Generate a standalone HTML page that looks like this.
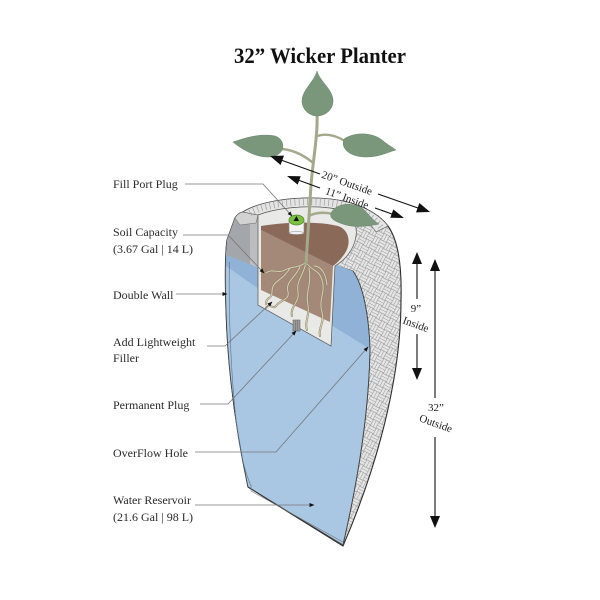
<!DOCTYPE html>
<html><head><meta charset="utf-8"><style>
html,body{margin:0;padding:0;background:#fff;}
svg{display:block;}
text{font-family:"Liberation Serif",serif;}
</style></head><body>
<svg xmlns="http://www.w3.org/2000/svg" width="600" height="600" viewBox="0 0 600 600">
<defs>
<pattern id="wk" width="13" height="13" patternUnits="userSpaceOnUse" patternTransform="rotate(28)">
<rect width="13" height="13" fill="#e6e6e6"/>
<path d="M0 0.3H6.5M0 3.25H6.5M0 6.2H6.5M6.8 0V6.5M9.75 0V6.5M12.7 0V6.5M0.3 6.5V13M3.25 6.5V13M6.2 6.5V13M6.5 6.8H13M6.5 9.75H13M6.5 12.7H13" stroke="#9a9a9a" stroke-width="0.55" fill="none"/>
</pattern>
<marker id="a" viewBox="0 0 10 10" refX="9" refY="5" markerWidth="5" markerHeight="5" markerUnits="userSpaceOnUse" orient="auto"><path d="M0,1 L10,5 L0,9 Z" fill="#111"/></marker>
</defs>
<rect width="600" height="600" fill="#fff"/>

<text x="320" y="63" text-anchor="middle" font-weight="bold" font-size="22" fill="#111" textLength="172" lengthAdjust="spacingAndGlyphs">32” Wicker Planter</text>

<!-- vessel silhouette (wicker) -->
<path d="M243,212 C262,200 300,196 330,199 C358,202 378,213 388,226 C398,240 402,265 401,300 C401,370 382,455 343,546 L248,487 C238,440 228,380 226,310 C225,280 225,255 227,240 L235,218 Q238,213 243,212 Z" fill="url(#wk)" stroke="#2e2e2e" stroke-width="1.1"/>

<!-- interior / water -->
<path d="M227,240 L235,218 Q238,213 243,212 L262,214 L335,265 L353,271 C363,285 369,315 370,350 C369,410 358,480 343,545 L248,487 C238,440 228,380 226,310 C225,280 225,255 227,240 Z" fill="#a9c6e3" stroke="#444" stroke-width="0.8"/>
<!-- grey inner wall above water -->
<path d="M227,240 L235,218 Q238,213 243,212 L259,215 L259,268 L226,255 Z" fill="#a3a6aa"/>
<path d="M250,216 L259,215 L259,268 L250,264 Z" fill="#bbbdc0"/>
<path d="M235,218 Q238,213 243,212 L258,215 L256,223 L240,225 Z" fill="#d2d2d2" stroke="#666" stroke-width="0.5"/>
<!-- water surface bands -->
<path d="M226,255 L259,268 L259,289 L226,266 Z" fill="#8fb2d6"/>
<path d="M334,264 L353,271 C362,284 368,305 370,349 L331,325 Z" fill="#8fb2d6"/>
<!-- double wall inner line -->
<path d="M229.5,262 C228.5,300 230,370 237,428 C240,452 245,472 251,486" fill="none" stroke="#5d7187" stroke-width="0.6"/>
<!-- bottom base -->
<path d="M248,487 L343,546" stroke="#333" stroke-width="1"/>
<path d="M251,485 L251,491 L343,542" fill="none" stroke="#777" stroke-width="0.6"/>
<!-- right cut edge -->
<path d="M353,271 C363,285 369,315 370,350 C369,410 358,480 343,545" fill="none" stroke="#444" stroke-width="0.9"/>

<!-- rim ring -->
<path d="M243,212 C262,200 300,196 330,199 C358,202 378,213 388,226 L376,232 C368,219 352,210 330,208 C305,205 276,208 258,215 Z" fill="#e4e4e4" stroke="#555" stroke-width="0.6"/>
<path d="M250,213 C268,203 302,200 330,203 C355,206 373,214 382,229" fill="none" stroke="#9c9c9c" stroke-width="6.5" stroke-dasharray="0.7 3.5"/>

<!-- inner pot -->
<path d="M258,215 C276,208 305,205 330,208 C350,211 358,222 356,236 C354,250 345,260 335,266 L331,346 L258,305 Z" fill="#e9e9e7" stroke="#555" stroke-width="0.7"/>
<!-- soil -->
<path d="M261,230 L333,266 L330,322 L261,290 Z" fill="#a48878"/>
<path d="M261,226 C285,222 318,221 338,226 C350,230 352,245 343,256 C340,260 337,263 333,266 L261,230 Z" fill="#8b6959"/>
<!-- roots -->
<g fill="none" stroke-linecap="round">
<g stroke="#857260" stroke-width="2">
<path d="M306,262 C300,268 292,266 285,270 C278,274 272,268 266,273"/>
<path d="M306,262 C304,275 296,280 298,292 C300,302 290,306 292,316"/>
<path d="M306,262 C312,272 318,268 322,280 C326,292 318,300 322,312 C325,322 318,328 320,336"/>
<path d="M300,267 C295,278 285,282 288,292 C290,300 280,300 276,306 C272,310 270,302 266,308"/>
<path d="M309,268 C312,285 305,292 308,305 C310,316 304,322 307,330"/>
<path d="M290,268 C282,282 272,280 272,292 C272,300 266,296 266,304"/>
<path d="M314,266 C322,266 326,275 327,285"/>
</g>
<g stroke="#cfcdaa" stroke-width="1.2">
<path d="M306,262 C300,268 292,266 285,270 C278,274 272,268 266,273"/>
<path d="M306,262 C304,275 296,280 298,292 C300,302 290,306 292,316"/>
<path d="M306,262 C312,272 318,268 322,280 C326,292 318,300 322,312 C325,322 318,328 320,336"/>
<path d="M300,267 C295,278 285,282 288,292 C290,300 280,300 276,306 C272,310 270,302 266,308"/>
<path d="M309,268 C312,285 305,292 308,305 C310,316 304,322 307,330"/>
<path d="M290,268 C282,282 272,280 272,292 C272,300 266,296 266,304"/>
<path d="M314,266 C322,266 326,275 327,285"/>
</g>
</g>
<!-- permanent plug -->
<rect x="293" y="320" width="7" height="11" fill="#9b9b9b" stroke="#555" stroke-width="0.5"/>
<path d="M295.3,321V331M297.6,321V331" stroke="#666" stroke-width="0.5"/>
<!-- fill port plug -->
<rect x="289" y="221" width="15" height="12" fill="#f2f2f2" stroke="#888" stroke-width="0.6"/>
<ellipse cx="296.5" cy="233" rx="7.5" ry="1.5" fill="#f2f2f2" stroke="#888" stroke-width="0.5"/>
<ellipse cx="296.5" cy="220" rx="7.5" ry="5" fill="#7cc043" stroke="#4b8a28" stroke-width="0.7"/>
<path d="M293.5,221 L296.5,216 L299,221 Z" fill="#111"/>

<!-- plant -->
<g fill="none" stroke="#a3a98a" stroke-linecap="round">
<path d="M317,113 C318,135 313,160 311,185 C309,215 307,245 306,264" stroke-width="3"/>
<path d="M312,162 C302,154 293,150 282,149" stroke-width="2.6"/>
<path d="M317,136 C326,133 335,135 345,141" stroke-width="2.4"/>
<path d="M309,216 C316,212 324,212 333,214" stroke-width="2.4"/>
</g>
<g fill="#7a967b" stroke="#6b866d" stroke-width="0.5">
<path d="M317,71 C320,82 334,90 333,102 C332,112 323,116 317,116 C310,116 302,110 302,101 C302,90 314,82 317,71 Z"/>
<path d="M233,142 C245,138 260,133 275,136 C285,139 286,152 275,156 C262,160 245,152 233,142 Z"/>
<path d="M344,139 C354,132 372,132 382,140 C388,145 392,147 396,150 C388,152 380,157 366,157 C352,157 340,150 344,139 Z"/>
<path d="M331,213 C336,203 352,202 362,208 C368,213 372,220 379,224 C368,226 358,228 346,225 C336,222 329,219 331,213 Z"/>
</g>

<!-- dimension arrows -->
<g stroke="#111" stroke-width="1.1" fill="#111">
<line x1="281" y1="160" x2="320" y2="174"/>
<line x1="378" y1="194" x2="418" y2="208"/>
<polygon points="270,156 280.6,165 284,155.6" stroke="none"/>
<polygon points="430,212 416,212.4 419.4,203" stroke="none"/>
<line x1="298" y1="180" x2="320" y2="188"/>
<line x1="375" y1="208" x2="392" y2="214"/>
<polygon points="287,176 297.7,184.6 300.7,176.2" stroke="none"/>
<polygon points="404,218 390.3,217.8 393.3,209.4" stroke="none"/>
<line x1="417" y1="263" x2="417" y2="299"/>
<line x1="417" y1="334" x2="417" y2="369"/>
<polygon points="417,252 412,264 422,264" stroke="none"/>
<polygon points="417,380 412,368 422,368" stroke="none"/>
<line x1="435" y1="270" x2="435" y2="398"/>
<line x1="435" y1="437" x2="435" y2="517"/>
<polygon points="435,259 430,271 440,271" stroke="none"/>
<polygon points="435,528 430,516 440,516" stroke="none"/>
</g>
<g font-size="11" fill="#222" text-anchor="middle">
<text x="347" y="186.5" transform="rotate(19.4 347 183)">20” Outside</text>
<text x="347" y="201.5" transform="rotate(19.7 347 198)">11” Inside</text>
<text x="416" y="312">9”</text>
<text x="416" y="328" transform="rotate(20 416 324)">Inside</text>
<text x="436" y="411">32”</text>
<text x="436" y="427" transform="rotate(20 436 423)">Outside</text>
</g>

<!-- leader lines -->
<g fill="none" stroke="#777" stroke-width="0.8" marker-end="url(#a)">
<path d="M185,184 H263 L292,216"/>
<path d="M183,235 H228 L264,273"/>
<path d="M176,294 H227"/>
<path d="M207,346 H225 L272,302"/>
<path d="M200,404 H228 L296,331"/>
<path d="M195,452 H276 L368,347"/>
<path d="M195,505 H314"/>
</g>

<!-- labels -->
<g font-size="12" fill="#2a2a2a">
<text x="113" y="188">Fill Port Plug</text>
<text x="113" y="236">Soil Capacity</text>
<text x="113" y="253">(3.67 Gal | 14 L)</text>
<text x="113" y="299">Double Wall</text>
<text x="113" y="346">Add Lightweight</text>
<text x="113" y="362">Filler</text>
<text x="113" y="409">Permanent Plug</text>
<text x="113" y="457">OverFlow Hole</text>
<text x="113" y="504">Water Reservoir</text>
<text x="113" y="521">(21.6 Gal | 98 L)</text>
</g>
</svg>
</body></html>
